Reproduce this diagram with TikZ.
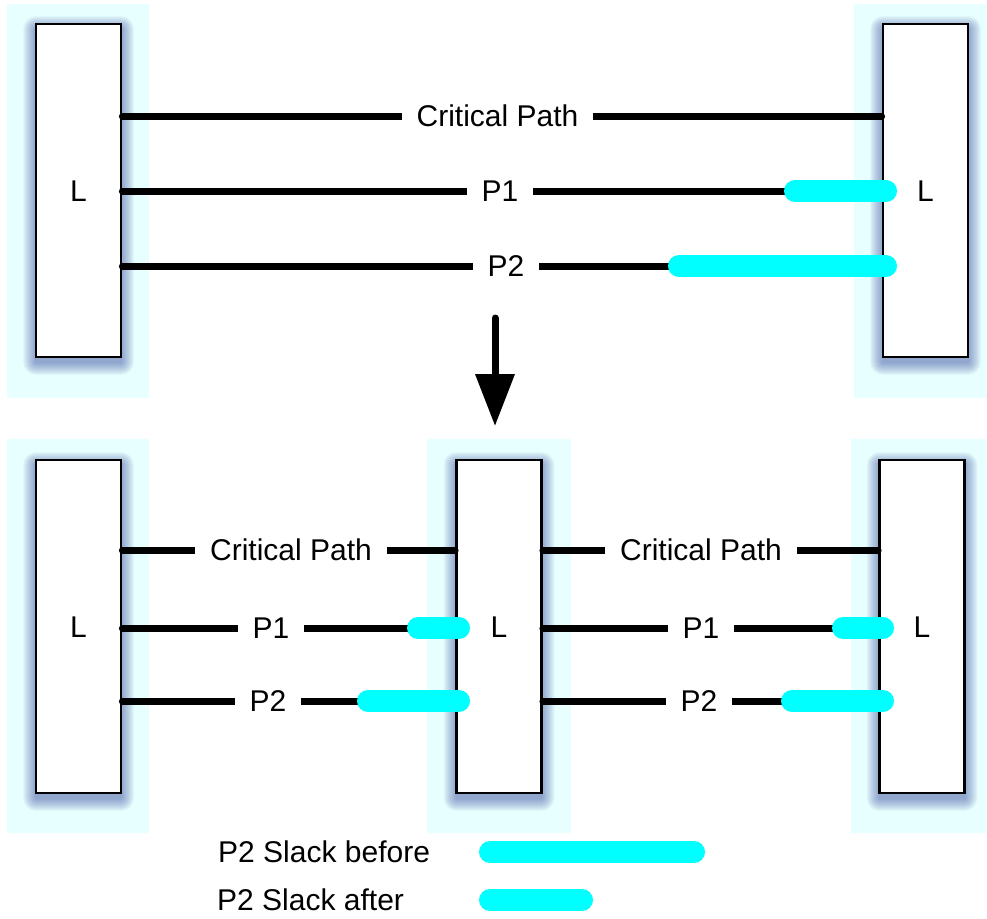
\documentclass[tikz,border=0pt]{standalone}
\usepackage{fontspec}
\setmainfont{Liberation Sans}
\usetikzlibrary{arrows.meta}
\definecolor{bgcyan}{RGB}{232,255,255}
\definecolor{slackcol}{RGB}{0,255,255}
\definecolor{shadowblue}{RGB}{45,65,155}
\newcommand\glowbox[2]{%
  \foreach \r in {1,...,13} {%
    \fill[shadowblue, opacity=0.045, rounded corners=\r pt]
      (#1-42.5-\r, #2-166.5-\r+5) rectangle (#1+42.5+\r, #2+166.5+\r+5);
  }%
}
\tikzset{
  txt/.style={font=\fontsize{30}{35}\selectfont, text height=21.5pt, text depth=0pt},
  lbl/.style={txt, fill=white, inner xsep=15pt, inner ysep=3pt},
  lbox/.style={draw=black, line width=2.8pt, fill=white, minimum width=85pt, minimum height=333pt,
    inner sep=0pt, txt},
  pathline/.style={line width=7pt, line cap=round, black},
  slack/.style={line width=22pt, line cap=round, slackcol},
}
\begin{document}
\begin{tikzpicture}[x=1pt,y=-1pt]
\useasboundingbox (0,0) rectangle (987,918);
% backgrounds
\fill[bgcyan] (7,4) rectangle (149,398);
\fill[bgcyan] (854,4) rectangle (987,398);
\fill[bgcyan] (7,439) rectangle (149,833);
\fill[bgcyan] (427,439) rectangle (571,833);
\fill[bgcyan] (851,439) rectangle (987,833);
% shadows
\glowbox{78.5}{190.5}
\glowbox{925.5}{190.5}
\glowbox{78.5}{626.5}
\glowbox{499}{626.5}
\glowbox{922}{626.5}
% boxes
\node[lbox] (TL) at (78.5,190.5) {L};
\node[lbox] (TR) at (925.5,190.5) {L};
\node[lbox] (BL) at (78.5,626.5) {L};
\node[lbox] (BM) at (499,626.5) {L};
\node[lbox] (BR) at (922,626.5) {L};
% top paths
\draw[pathline] (TL.east |- 0,116) -- (TR.west |- 0,116);
\draw[pathline] (TL.east |- 0,191) -- (TR.west |- 0,191);
\draw[pathline] (TL.east |- 0,266) -- (TR.west |- 0,266);
\node[lbl] (tcp) at (497.5,116) {Critical Path};
\node[lbl] (tp1) at (500,191) {P1};
\node[lbl] (tp2) at (506,266) {P2};
\coordinate (ts1a) at (795,191); \coordinate (ts1b) at (886,191);
\coordinate (ts2a) at (679,266); \coordinate (ts2b) at (886,266);
\draw[slack] (ts1a) -- (ts1b);
\draw[slack] (ts2a) -- (ts2b);
% arrow
\coordinate (arrS) at (495,318);
\coordinate (arrE) at (495,426);
\draw[line width=7pt, line cap=round, -{Triangle[width=38pt,length=52pt]}] (arrS) -- (arrE);
% bottom left paths
\draw[pathline] (BL.east |- 0,550) -- (BM.west |- 0,550);
\draw[pathline] (BL.east |- 0,628) -- (BM.west |- 0,628);
\draw[pathline] (BL.east |- 0,701) -- (BM.west |- 0,701);
\node[lbl] (bcp1) at (291,550) {Critical Path};
\node[lbl] (bp11) at (271,628) {P1};
\node[lbl] (bp21) at (268,701) {P2};
\coordinate (bs1a) at (418,628); \coordinate (bs1b) at (459,628);
\coordinate (bs2a) at (368,701); \coordinate (bs2b) at (459,701);
\draw[slack] (bs1a) -- (bs1b);
\draw[slack] (bs2a) -- (bs2b);
% bottom right paths
\draw[pathline] (BM.east |- 0,550) -- (BR.west |- 0,550);
\draw[pathline] (BM.east |- 0,628) -- (BR.west |- 0,628);
\draw[pathline] (BM.east |- 0,701) -- (BR.west |- 0,701);
\node[lbl] (bcp2) at (701,550) {Critical Path};
\node[lbl] (bp12) at (701,628) {P1};
\node[lbl] (bp22) at (699,701) {P2};
\coordinate (bs3a) at (843,628); \coordinate (bs3b) at (883,628);
\coordinate (bs4a) at (792,701); \coordinate (bs4b) at (883,701);
\draw[slack] (bs3a) -- (bs3b);
\draw[slack] (bs4a) -- (bs4b);
% legend
\node[txt, anchor=west, inner sep=0pt] (lgb) at (218,852) {P2 Slack before};
\node[txt, anchor=west, inner sep=0pt] (lga) at (217,900) {P2 Slack after};
\coordinate (lb1) at (490,852); \coordinate (lb2) at (694,852);
\coordinate (la1) at (490,900); \coordinate (la2) at (582,900);
\draw[slack] (lb1) -- (lb2);
\draw[slack] (la1) -- (la2);
\end{tikzpicture}
\end{document}
